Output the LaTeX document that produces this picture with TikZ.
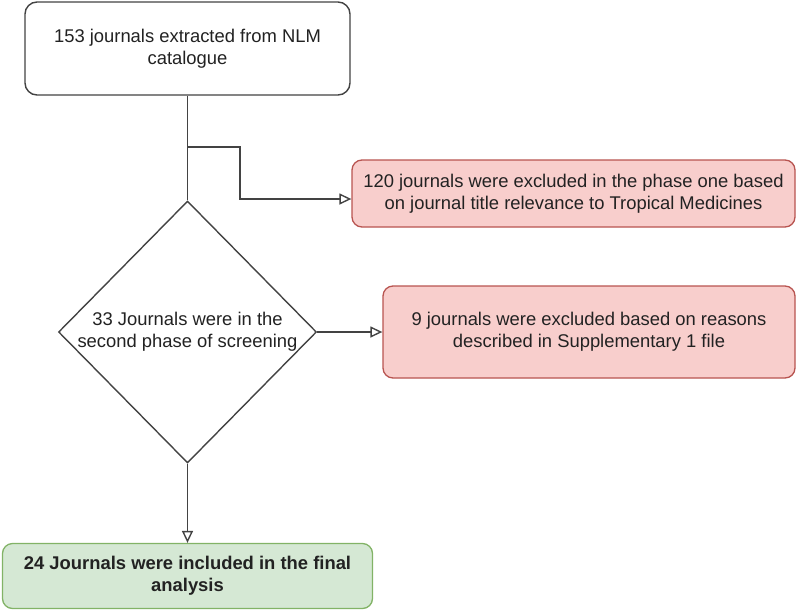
\documentclass[tikz,border=0pt]{standalone}
\usepackage{fontspec}
\setmainfont{Liberation Sans}
\usetikzlibrary{arrows.meta,shapes.geometric}
\definecolor{redfill}{HTML}{F8CECC}
\definecolor{redline}{HTML}{B85450}
\definecolor{grnfill}{HTML}{D5E8D4}
\definecolor{grnline}{HTML}{82B366}
\definecolor{inkc}{HTML}{222222}
\begin{document}
\begin{tikzpicture}[x=1pt,y=1pt,
  every node/.style={font=\fontsize{18.4}{22}\selectfont, text=inkc, align=center, inner sep=0pt},
  box/.style={draw=inkc!85, line width=1.4pt, rounded corners=12pt, fill=white},
  redbox/.style={draw=redline, line width=1.3pt, rounded corners=10pt, fill=redfill},
  grnbox/.style={draw=grnline, line width=1.3pt, rounded corners=10pt, fill=grnfill},
  conn/.style={draw=inkc!85, line width=1.4pt},
  arr/.style={conn, -{Triangle[open, length=12pt, width=11pt, line width=1.4pt]}}
]
\useasboundingbox (0,0) rectangle (797,-613);
\node[box, minimum width=325, minimum height=93] (top) at (187.5,-48.5) {153 journals extracted from NLM\\catalogue};
\node[redbox, minimum width=443, minimum height=67] (red1) at (573.5,-193.5) {120 journals were excluded in the phase one based\\on journal title relevance to Tropical Medicines};
\node[redbox, minimum width=412, minimum height=92] (red2) at (589,-332) {9 journals were excluded based on reasons\\described in Supplementary 1 file};
\node[draw=inkc!85, line width=1.4pt, shape=diamond, minimum width=258, minimum height=262, fill=white] (dia) at (187.5,-332) {};
\node (diatext) at (dia.center) {33 Journals were in the\\second phase of screening};
\node[grnbox, minimum width=370, minimum height=65, font=\fontsize{18.4}{22}\selectfont\bfseries] (grn) at (187.5,-576) {24 Journals were included in the final\\analysis};
\coordinate (b1) at (187.5,-147);
\coordinate (b2) at (240,-147);
\coordinate (b3) at (240,-199);
\draw[conn] (top.south) -- (dia.north);
\draw[arr] (b1) -- (b2) -- (b3) -- (b3 -| red1.west);
\draw[arr] (dia.east) -- (red2.west);
\draw[arr] (dia.south) -- (grn.north);
\end{tikzpicture}
\end{document}
